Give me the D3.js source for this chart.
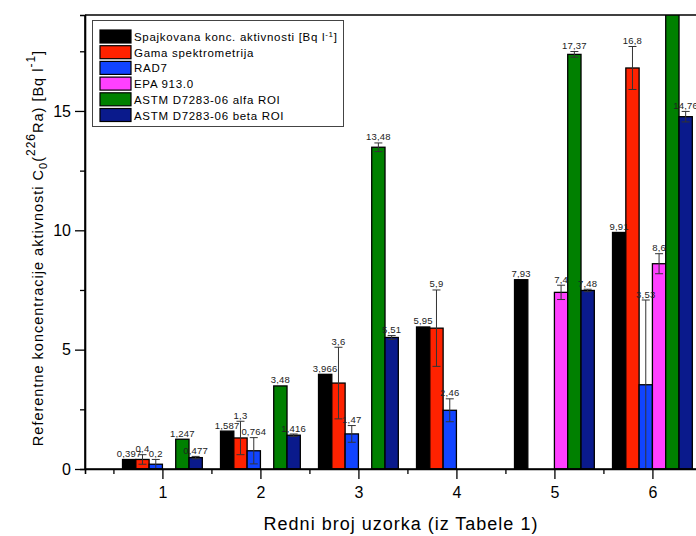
<!DOCTYPE html>
<html><head><meta charset="utf-8">
<script src="https://cdn.jsdelivr.net/npm/d3@7"></script>
<style>
body{margin:0;background:#fff;}
text{font-family:"Liberation Sans",Arial,sans-serif;}
</style></head>
<body><svg id="c" width="696" height="536"></svg>
<script>
const categories = [1, 2, 3, 4, 5, 6];
const seriesNames = ["Spajkovana konc. aktivnosti [Bq l-1]", "Gama spektrometrija", "RAD7", "EPA 913.0", "ASTM D7283-06 alfa ROI", "ASTM D7283-06 beta ROI"];
const seriesColors = ["#000000", "#ff2200", "#1144ff", "#ff40ff", "#008000", "#0a1a8c"];
const spajkovana = [0.397, 1.587, 3.966, 5.95, 7.93, 9.91];
const spajkovanaErr = [0, 0, 0, 0, 0, 0];
const gama = [0.4, 1.3, 3.6, 5.9, null, 16.8];
const gamaErr = [0.2, 0.7, 1.5, 1.6, null, 0.9];
const rad7 = [0.2, 0.764, 1.47, 2.46, null, 3.53];
const rad7Err = [0.2, 0.55, 0.35, 0.48, null, 3.55];
const epa = [null, null, null, null, 7.4, 8.6];
const epaErr = [null, null, null, null, 0.3, 0.42];
const alfa = [1.247, 3.48, 13.48, null, 17.37, 21.0];
const alfaErr = [0, 0, 0.18, null, 0.12, 0];
const beta = [0.477, 1.416, 5.51, null, 7.48, 14.76];
const betaErr = [0.05, 0.05, 0.08, null, 0.05, 0.22];
const yMajorTicks = [0, 5, 10, 15];
const yMinorTicks = [2.5, 7.5, 12.5, 17.5];
const xMinorTicks = [0.5, 1.5, 2.5, 3.5, 4.5, 5.5, 6.5];

const values = [spajkovana, gama, rad7, epa, alfa, beta];
const errors = [spajkovanaErr, gamaErr, rad7Err, epaErr, alfaErr, betaErr];

const svg = d3.select("#c");
const L = 85, T = 15, B = 469;
const x = d3.scaleLinear().domain([0.21, 7.2]).range([L, L + 6.99 * 98]);
const y = d3.scaleLinear().domain([0, 19.02]).range([B, T]);
const barW = x(1.1357) - x(1);

svg.append("defs").append("clipPath").attr("id", "clip")
  .append("rect").attr("x", L).attr("y", T).attr("width", 800).attr("height", B - T);

const plot = svg.append("g").attr("clip-path", "url(#clip)");

const bars = [];
values.forEach((arr, k) => {
  arr.forEach((v, i) => {
    if (v === null) return;
    bars.push({k, cat: categories[i], v, e: errors[k][i]});
  });
});
const cx = d => x(d.cat) + (d.k - 2.5) * barW;

plot.selectAll("rect.bar").data(bars).enter().append("rect")
  .attr("class", "bar")
  .attr("x", d => cx(d) - barW / 2)
  .attr("y", d => y(d.v))
  .attr("width", barW)
  .attr("height", d => y(0) - y(d.v))
  .attr("fill", d => seriesColors[d.k])
  .attr("stroke", "#000").attr("stroke-width", 1.3);

const eb = bars.filter(d => d.e > 0);
const eg = plot.append("g").attr("stroke", "#333").attr("stroke-width", 1);
eg.selectAll("line.v").data(eb).enter().append("line")
  .attr("x1", cx).attr("x2", cx)
  .attr("y1", d => y(d.v - d.e)).attr("y2", d => y(d.v + d.e));
eg.selectAll("line.t").data(eb).enter().append("line")
  .attr("x1", d => cx(d) - 4).attr("x2", d => cx(d) + 4)
  .attr("y1", d => y(d.v + d.e)).attr("y2", d => y(d.v + d.e));
eg.selectAll("line.b").data(eb).enter().append("line")
  .attr("x1", d => cx(d) - 4).attr("x2", d => cx(d) + 4)
  .attr("y1", d => y(d.v - d.e)).attr("y2", d => y(d.v - d.e));

// value labels (only those inside the visible plot range)
plot.selectAll("text.lab").data(bars.filter(d => d.v + d.e < y.domain()[1])).enter().append("text")
  .attr("x", cx)
  .attr("y", d => y(d.v + d.e) - 2.5)
  .attr("text-anchor", "middle")
  .attr("font-size", "9.5px")
  .attr("letter-spacing", "0.2px")
  .attr("fill", "#222")
  .text(d => String(d.v).replace(".", ","));

// axes
const ax = svg.append("g");
ax.append("line").attr("x1", L).attr("x2", 696).attr("y1", T).attr("y2", T).attr("stroke", "#000").attr("stroke-width", 1.6);

const yAxis = ax.append("g").attr("transform", `translate(${L},0)`)
  .call(d3.axisLeft(y).tickValues(yMajorTicks).tickSize(10).tickPadding(4).tickFormat(d3.format("d")));
ax.append("g").attr("transform", `translate(${L},0)`)
  .call(d3.axisLeft(y).tickValues(yMinorTicks).tickSize(5).tickFormat(""));
const xAxis = ax.append("g").attr("transform", `translate(0,${B})`)
  .call(d3.axisBottom(x).tickValues(categories).tickSize(10).tickPadding(8).tickFormat(d3.format("d")));
ax.append("g").attr("transform", `translate(0,${B})`)
  .call(d3.axisBottom(x).tickValues(xMinorTicks).tickSize(5).tickFormat(""));
ax.selectAll(".domain").attr("stroke", "#000").attr("stroke-width", 1.6);
ax.selectAll(".tick line").attr("stroke", "#000").attr("stroke-width", 1.3);
ax.selectAll(".tick text").attr("font-size", "16px").attr("fill", "#000").attr("font-family", "Liberation Sans, Arial, sans-serif");
yAxis.select(".domain").attr("d", `M0,${B}V${T}`);
xAxis.select(".domain").attr("d", `M${L},0H696`);

// axis titles
svg.append("text").attr("x", 401).attr("y", 530).attr("text-anchor", "middle")
  .attr("font-size", "18px").attr("letter-spacing", "1px").attr("fill", "#000").text("Redni broj uzorka (iz Tabele 1)");

const yt = svg.append("text").attr("transform", "translate(43,248) rotate(-90)")
  .attr("text-anchor", "middle").attr("font-size", "14.5px").attr("letter-spacing", "1px").attr("fill", "#000");
yt.append("tspan").text("Referentne koncentracije aktivnosti C");
yt.append("tspan").attr("dy", 4).attr("font-size", "11px").text("0");
yt.append("tspan").attr("dy", -4).text("(");
yt.append("tspan").attr("dy", -8).attr("font-size", "12px").text("226");
yt.append("tspan").attr("dy", 8).text("Ra) [Bq l");
yt.append("tspan").attr("dy", -8).attr("font-size", "12px").text("-1");
yt.append("tspan").attr("dy", 8).text("]");

// legend
const lg = svg.append("g");
lg.append("rect").attr("x", 92.5).attr("y", 20.5).attr("width", 251).attr("height", 106)
  .attr("fill", "#fff").attr("stroke", "#444").attr("stroke-width", 1);
seriesNames.forEach((n, k) => {
  const yy = 30 + k * 15.7;
  lg.append("rect").attr("x", 100).attr("y", yy).attr("width", 31).attr("height", 13)
    .attr("fill", seriesColors[k]).attr("stroke", "#000").attr("stroke-width", 1.2);
  const t = lg.append("text").attr("x", 134).attr("y", yy + 11).attr("font-size", "11.5px")
    .attr("letter-spacing", "0.7px").attr("fill", "#000");
  if (k === 0) {
    t.append("tspan").text("Spajkovana konc. aktivnosti [Bq l");
    t.append("tspan").attr("dy", -4).attr("font-size", "8px").text("-1");
    t.append("tspan").attr("dy", 4).text("]");
  } else t.text(n);
});
</script></body></html>
